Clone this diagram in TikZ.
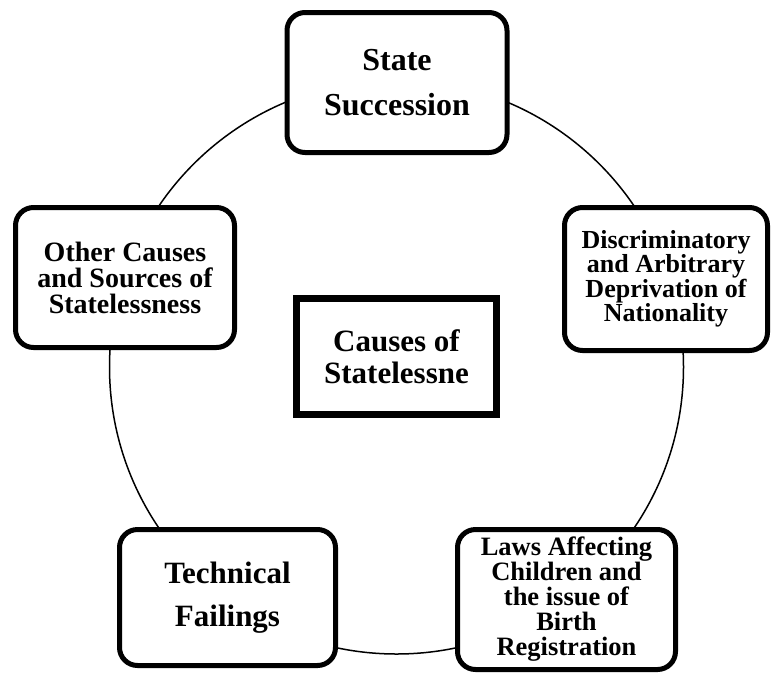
\documentclass[tikz,border=0pt]{standalone}
\usepackage{fontspec}
\setmainfont{Liberation Serif}
\tikzset{
  cause/.style={draw, fill=white, line width=5pt, rounded corners=18pt,
    align=center, inner sep=0pt},
  hub/.style={draw, fill=white, line width=7pt, align=center, inner sep=0pt},
}

\begin{document}
\begin{tikzpicture}[x=1pt, y=-1pt]
  \useasboundingbox (0,0) rectangle (771,673);
  \coordinate (mid) at (396.5,367);
  \draw[line width=1.5pt] (mid) circle[radius=287pt];

  \node (hub) [hub, minimum width=200pt, minimum height=116pt,
    font=\fontsize{31}{32}\selectfont\bfseries] at (396.5,356.5)
    {Causes of\\Statelessne};

  \node (state) [cause, minimum width=220pt, minimum height=140pt,
    font=\fontsize{32}{45}\selectfont\bfseries] at (397,82.5)
    {State\\Succession};
  \node (disc) [cause, minimum width=203pt, minimum height=143pt,
    font=\fontsize{26}{24.5}\selectfont\bfseries] at (666,279)
    {Discriminatory\\and Arbitrary\\Deprivation of\\Nationality};
  \node (other) [cause, minimum width=219pt, minimum height=140pt,
    font=\fontsize{28}{26}\selectfont\bfseries] at (125,277.5)
    {Other Causes\\and Sources of\\Statelessness};
  \node (tech) [cause, minimum width=216pt, minimum height=136pt,
    font=\fontsize{31}{43}\selectfont\bfseries] at (227.5,597.5)
    {Technical\\Failings};
  \node (laws) [cause, minimum width=218pt, minimum height=140pt,
    font=\fontsize{26.5}{25}\selectfont\bfseries] at (566.5,599.5)
    {Laws Affecting\\Children and\\the issue of\\Birth\\Registration};
\end{tikzpicture}
\end{document}
